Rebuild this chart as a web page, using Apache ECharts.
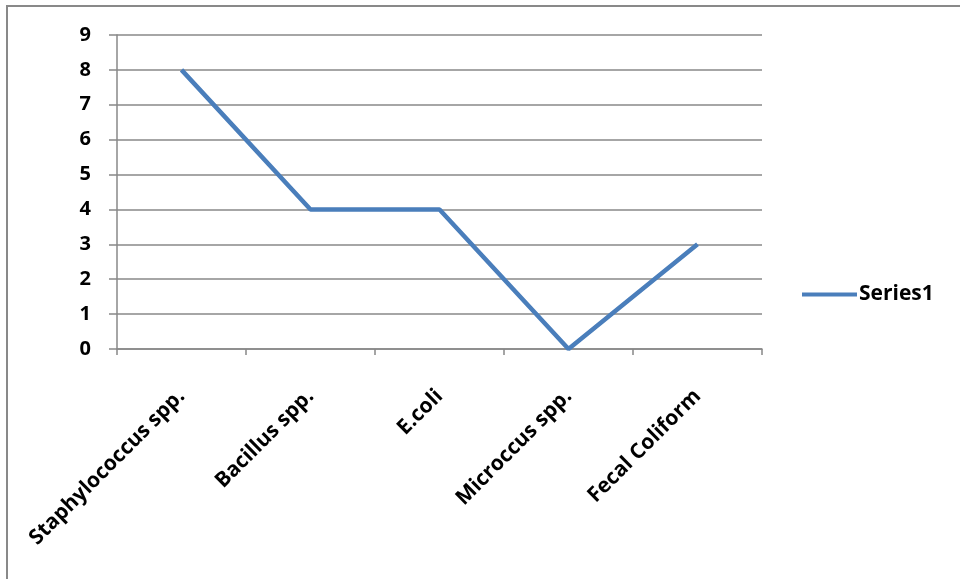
<!DOCTYPE html>
<html>
<head>
<meta charset="utf-8">
<script src="https://cdn.jsdelivr.net/npm/echarts@6/dist/echarts.min.js"></script>
<style>
html,body{margin:0;padding:0;background:#fff;}
#chart{width:960px;height:579px;}
</style>
</head>
<body>
<div id="chart"></div>
<script>
const categories = ['Staphylococcus spp.', 'Bacillus spp.', 'E.coli', 'Microccus spp.', 'Fecal Coliform'];
const seriesName = 'Series1';
const values = [8, 4, 4, 0, 3];
const yTicks = [0, 1, 2, 3, 4, 5, 6, 7, 8, 9];

const FONT = '"Open Sans"';
const chart = echarts.init(document.getElementById('chart'), null, {renderer: 'canvas'});
chart.setOption({
  backgroundColor: '#fff',
  animation: false,
  graphic: [{
    type: 'rect',
    shape: {x: 7, y: 6, width: 1000, height: 1000},
    style: {fill: 'none', stroke: '#898989', lineWidth: 2},
    silent: true
  }],
  grid: {left: 117, right: 198, top: 35, bottom: 230},
  legend: {
    data: [seriesName],
    left: 802, top: 284,
    padding: 0,
    icon: 'rect',
    itemWidth: 55, itemHeight: 4,
    itemGap: 0,
    textStyle: {fontFamily: FONT, fontWeight: 'bold', fontSize: 21, color: '#000', padding: [0,0,0,-3]}
  },
  xAxis: {
    type: 'category',
    data: categories,
    boundaryGap: true,
    axisLine: {lineStyle: {color: '#888', width: 1.5}},
    axisTick: {show: true, interval: 0, length: 6, lineStyle: {color: '#888', width: 1.5}},
    axisLabel: {
      interval: 0, rotate: 45, margin: 44,
      fontFamily: FONT, fontWeight: 'bold', fontSize: 21, color: '#000'
    },
    splitLine: {show: false}
  },
  yAxis: {
    type: 'value',
    min: yTicks[0], max: yTicks[yTicks.length - 1], interval: 1,
    axisLine: {show: true, lineStyle: {color: '#888', width: 1.5}},
    axisTick: {show: true, length: 8, lineStyle: {color: '#888', width: 1.5}},
    axisLabel: {margin: 26, fontFamily: FONT, fontWeight: 'bold', fontSize: 20, color: '#000'},
    splitLine: {show: true, lineStyle: {color: '#888', width: 1.5}}
  },
  series: [{
    name: seriesName,
    type: 'line',
    data: values,
    showSymbol: false,
    symbol: 'none',
    lineStyle: {color: '#4A7EBB', width: 4.5},
    itemStyle: {color: '#4A7EBB'}
  }]
});
</script>
</body>
</html>
